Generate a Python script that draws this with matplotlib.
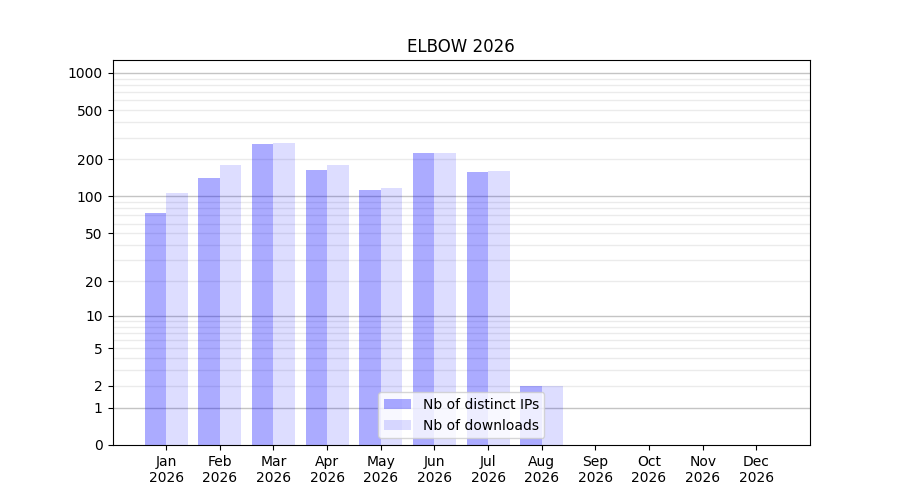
import numpy as np
import matplotlib
matplotlib.use("Agg")
import matplotlib.pyplot as plt

months = ["Jan", "Feb", "Mar", "Apr", "May", "Jun", "Jul", "Aug", "Sep", "Oct", "Nov", "Dec"]
year = "2026"
distinct_ips = [73, 141, 266, 163, 112, 224, 157, 2, 0, 0, 0, 0]
downloads = [106, 180, 271, 180, 117, 224, 160, 2, 0, 0, 0, 0]
ytick_values = [0, 1, 2, 5, 10, 20, 50, 100, 200, 500, 1000]
major_grid = [1, 10, 100, 1000]
minor_grid = [m * 10 ** k for k in range(0, 3) for m in range(2, 10)]

fig, ax = plt.subplots(figsize=(9, 5), dpi=100)

fwd = lambda y: np.log10(1 + np.clip(y, 0, None))
inv = lambda y: 10 ** y - 1
ax.set_yscale("function", functions=(fwd, inv))

x = np.arange(len(months))
for v in minor_grid:
    ax.axhline(v, color="#ebebeb", lw=1, zorder=0)
for v in major_grid:
    ax.axhline(v, color="#c4c4c4", lw=1, zorder=0)

ax.bar(x, distinct_ips, width=-0.4, align="edge", color="blue", alpha=0.33,
       label="Nb of distinct IPs", zorder=1)
ax.bar(x, downloads, width=0.4, align="edge", color="blue", alpha=0.135,
       label="Nb of downloads", zorder=1)

ax.set_xlim(-1, 12)
ax.set_ylim(0, 1270)
ax.set_yticks(ytick_values)
ax.set_yticklabels([str(v) for v in ytick_values])
ax.yaxis.set_minor_locator(matplotlib.ticker.NullLocator())
ax.set_xticks(x)
ax.set_xticklabels([f"{m}\n{year}" for m in months])
ax.set_title("ELBOW 2026")
ax.legend(loc="lower center")

fig.savefig("out.png", dpi=100)
